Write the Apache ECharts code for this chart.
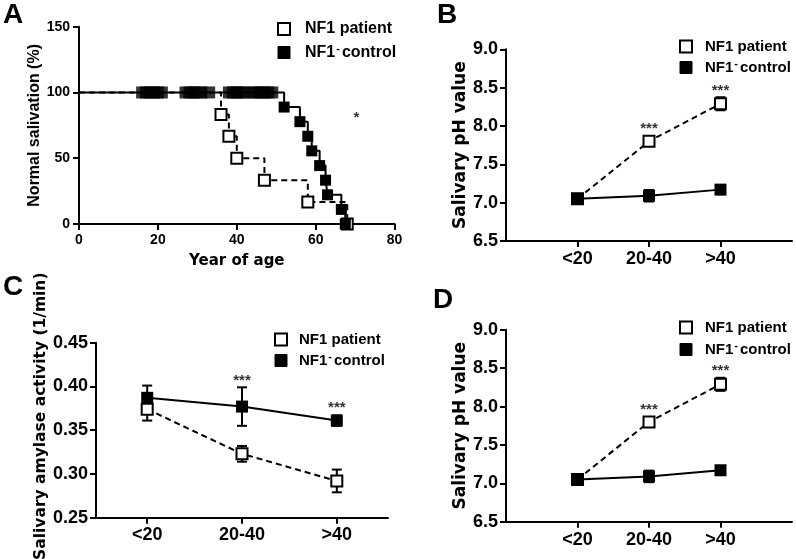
<!DOCTYPE html>
<html><head><meta charset="utf-8">
<script src="https://cdn.jsdelivr.net/npm/echarts@6/dist/echarts.min.js"></script>
<style>html,body{margin:0;padding:0;background:#fff}#c{width:796px;height:559px}</style>
</head><body><div id="c"></div>
<script>
// ---------- Panel A (Kaplan-Meier style) ----------
const ageTicks = [0, 20, 40, 60, 80];
const salivTicks = [0, 50, 100, 150];
const patientKM = [[0,100],[36,83.3],[38,66.7],[40,50],[47,33.3],[58,16.7],[68,0]];
const controlKM = [[0,100],[52,88.9],[56,77.8],[58,66.7],[59,55.6],[61,44.4],[62.5,33.3],[63,22.2],[66.5,11.1],[67.5,0]];
const controlCensoredAge = [16,17,18,19,20,21,27,28,29,30,31,33,38,39,40,41,42,44,45,46,47,48,49];
const starA = [[70.3, 81]];

// ---------- Panels B & D (salivary pH) ----------
const groups = ['<20', '20-40', '>40'];
const phTicks = [6.5, 7.0, 7.5, 8.0, 8.5, 9.0];
const phPatient = [7.05, 7.80, 8.29];
const phPatientErr = [0.02, 0.03, 0.085];
const phControl = [7.05, 7.09, 7.17];
const phControlErr = [0.02, 0.075, 0.03];
const phStars = [[2, 7.96], [3, 8.46]];

// ---------- Panel C (amylase activity) ----------
const amyTicks = [0.25, 0.30, 0.35, 0.40, 0.45];
const amyPatient = [0.374, 0.323, 0.292];
const amyPatientErr = [0.013, 0.009, 0.013];
const amyControl = [0.387, 0.377, 0.361];
const amyControlErr = [0.014, 0.022, 0.006];
const amyStars = [[2, 0.406], [3, 0.375]];

const PAT = 'NF1 patient';
const CTRL = 'NF1- control';
const FONT = 'Arial, "Liberation Sans", Helvetica, sans-serif';
const WIDE = '"DejaVu Sans", Verdana, sans-serif';

const chart = echarts.init(document.getElementById('c'));

const grids = [
  {left: 79, top: 26.7, width: 315.6, height: 197.3},
  {left: 506, top: 49.3, width: 286, height: 191.7},
  {left: 96, top: 342.7, width: 292, height: 175},
  {left: 506, top: 329.8, width: 286, height: 191.9}
].map(g => Object.assign({outerBoundsMode: 'none', containLabel: false}, g));

function axis(o) {
  const fs = o.fontSize;
  const a = {
    type: 'value', gridIndex: o.grid, min: o.min, max: o.max,
    axisLine: {show: true, onZero: false, lineStyle: {color: '#000', width: 2}},
    axisTick: {show: true, inside: false, length: o.tickLen || 6, lineStyle: {color: '#000', width: 2}},
    axisLabel: {show: true, color: '#000', fontWeight: 'bold', fontSize: fs, fontFamily: FONT, margin: o.margin || 8},
    splitLine: {show: false},
    name: o.name || '', nameLocation: 'middle', nameGap: o.nameGap || 30,
    nameTextStyle: Object.assign({color: '#000', fontWeight: 'bold', fontSize: o.nameSize || 16, fontFamily: o.nameFont || FONT}, o.nameExtra || {})
  };
  if (o.interval != null) a.interval = o.interval;
  if (o.ticks) { a.axisTick.customValues = o.ticks; a.axisLabel.customValues = o.ticks; }
  if (o.fmt) a.axisLabel.formatter = o.fmt;
  return a;
}
const groupFmt = v => groups[Math.round(v) - 1];
const groupPos = groups.map((g, i) => i + 1);

const xAxis = [
  axis({grid: 0, min: ageTicks[0], max: ageTicks[ageTicks.length-1], interval: ageTicks[1]-ageTicks[0], fontSize: 14, margin: 9, name: 'Year of age', nameGap: 30, nameSize: 15, nameFont: WIDE}),
  axis({grid: 1, min: 0, max: 4, ticks: groupPos, fmt: groupFmt, fontSize: 18, margin: 9}),
  axis({grid: 2, min: 0.46, max: 3.54, ticks: groupPos, fmt: groupFmt, fontSize: 18, margin: 8}),
  axis({grid: 3, min: 0, max: 4, ticks: groupPos, fmt: groupFmt, fontSize: 18, margin: 9})
];
const yAxis = [
  axis({grid: 0, min: salivTicks[0], max: salivTicks[salivTicks.length-1], interval: salivTicks[1]-salivTicks[0], fontSize: 14, margin: 9, name: 'Normal salivation (%)', nameGap: 35, nameSize: 16}),
  axis({grid: 1, min: phTicks[0], max: phTicks[phTicks.length-1], interval: 0.5, fontSize: 18, fmt: v => v.toFixed(1), name: 'Salivary pH value', nameGap: 32, nameSize: 17, nameFont: WIDE}),
  axis({grid: 2, min: amyTicks[0], max: amyTicks[amyTicks.length-1], interval: 0.05, fontSize: 18, fmt: v => v.toFixed(2), name: 'Salivary amylase activity (1/min)', nameGap: 47, nameSize: 15.5, nameFont: WIDE, nameExtra: {padding: [0, 0, 0, 28]}}),
  axis({grid: 3, min: phTicks[0], max: phTicks[phTicks.length-1], interval: 0.5, fontSize: 18, fmt: v => v.toFixed(1), name: 'Salivary pH value', nameGap: 32, nameSize: 17, nameFont: WIDE})
];

const openSym = {color: '#fff', borderColor: '#000', borderWidth: 2};
const fillSym = {color: '#000', borderColor: '#000', borderWidth: 0};

function lineSeries(gi, name, pts, open, z, size) {
  return {
    type: 'line', name, xAxisIndex: gi, yAxisIndex: gi, z,
    data: pts, symbol: 'rect', symbolSize: size, showAllSymbol: true,
    lineStyle: {color: '#000', width: 2, type: open ? [6, 4] : 'solid'},
    itemStyle: open ? openSym : fillSym, animation: false, silent: true
  };
}
function errSeries(gi, name, means, errs, z) {
  return {
    type: 'custom', name, xAxisIndex: gi, yAxisIndex: gi, z, silent: true, animation: false,
    encode: {x: 0, y: [1, 2]},
    data: means.map((m, i) => [i + 1, m - errs[i], m + errs[i]]),
    renderItem: (params, api) => {
      const x = api.value(0);
      const p1 = api.coord([x, api.value(2)]);
      const p2 = api.coord([x, api.value(1)]);
      const w = 5, st = {stroke: '#000', lineWidth: 2};
      return {type: 'group', children: [
        {type: 'line', shape: {x1: p1[0], y1: p1[1], x2: p2[0], y2: p2[1]}, style: st},
        {type: 'line', shape: {x1: p1[0]-w, y1: p1[1], x2: p1[0]+w, y2: p1[1]}, style: st},
        {type: 'line', shape: {x1: p2[0]-w, y1: p2[1], x2: p2[0]+w, y2: p2[1]}, style: st}
      ]};
    }
  };
}
function starSeries(gi, pts, text, fs) {
  return {
    type: 'scatter', xAxisIndex: gi, yAxisIndex: gi, z: 6, silent: true, animation: false,
    data: pts, symbolSize: 1, itemStyle: {color: 'rgba(0,0,0,0)'},
    label: {show: true, position: 'inside', formatter: text, color: '#000', fontWeight: 'bold', fontSize: fs, fontFamily: FONT}
  };
}
const idx = arr => arr.map((v, i) => [i + 1, v]);

function stepSeries(name, pts, open, z) {
  const s = lineSeries(0, name, pts.map((p, i) => i === 0 ? {value: p, symbol: 'none'} : p), open, z, 11);
  s.step = 'end';
  return s;
}

const series = [
  // Panel A
  stepSeries(PAT, patientKM, true, 3),
  stepSeries(CTRL, controlKM, false, 4),
  {type: 'scatter', name: CTRL, xAxisIndex: 0, yAxisIndex: 0, z: 4, silent: true, animation: false,
   data: controlCensoredAge.map(a => [a, 100]), symbol: 'rect', symbolSize: 12, itemStyle: fillSym},
  starSeries(0, starA, '*', 15),
  // Panel B & D
  ...[1, 3].flatMap(gi => [
    errSeries(gi, PAT, phPatient, phPatientErr, 2),
    lineSeries(gi, PAT, idx(phPatient), true, 3, 11),
    errSeries(gi, CTRL, phControl, phControlErr, 4),
    lineSeries(gi, CTRL, idx(phControl), false, 5, 12),
    starSeries(gi, phStars, '***', 15)
  ]),
  // Panel C
  errSeries(2, CTRL, amyControl, amyControlErr, 2),
  lineSeries(2, CTRL, idx(amyControl), false, 3, 12),
  errSeries(2, PAT, amyPatient, amyPatientErr, 4),
  lineSeries(2, PAT, idx(amyPatient), true, 5, 11),
  starSeries(2, amyStars, '***', 15)
];

function legendAt(left, top, gap, fs, pad) {
  return {
    left, top, orient: 'vertical', itemGap: gap, itemWidth: 12, itemHeight: 12, padding: 0,
    selectedMode: false,
    data: [
      {name: PAT, icon: 'rect', itemStyle: {color: '#fff', borderColor: '#000', borderWidth: 2}},
      {name: CTRL, icon: 'rect', itemStyle: {color: '#000', borderColor: '#000', borderWidth: 1}}
    ],
    formatter: n => n === CTRL ? '{t|NF1}{s|-}{u|control}' : '{t|NF1 patient}',
    textStyle: {rich: {
      t: {fontSize: fs, fontWeight: 'bold', fontFamily: FONT, color: '#000', padding: [0, 0, 0, pad]},
      s: {fontSize: 11, fontWeight: 'bold', fontFamily: FONT, color: '#000', padding: [0, 1, 8, 1]},
      u: {fontSize: fs, fontWeight: 'bold', fontFamily: FONT, color: '#000', padding: [0, 0, 0, 1]}
    }}
  };
}

const legend = [
  legendAt(277, 21, 6, 16, 10),
  legendAt(679, 39, 4, 15, 8),
  legendAt(274, 332, 4, 15, 7),
  legendAt(679, 320, 5, 15, 8)
];

const panelLabel = (t, l, tp) => ({type: 'text', left: l, top: tp, silent: true,
  style: {text: t, font: 'bold 28px ' + FONT, fill: '#000'}});

chart.setOption({
  animation: false,
  backgroundColor: '#fff',
  grid: grids,
  xAxis, yAxis, series, legend,
  graphic: [panelLabel('A', 3, 1), panelLabel('B', 437, 1), panelLabel('C', 3, 273), panelLabel('D', 433, 286)]
});
</script></body></html>
